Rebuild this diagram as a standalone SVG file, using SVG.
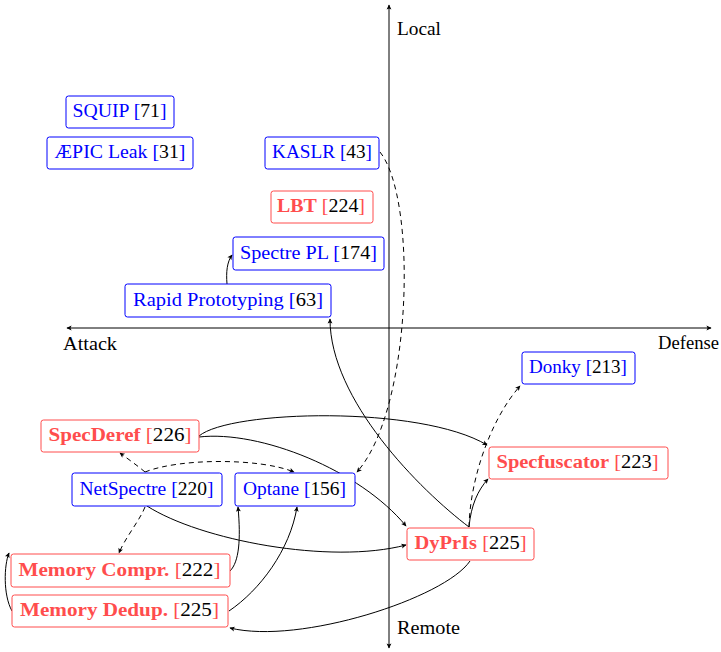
<svg xmlns="http://www.w3.org/2000/svg" width="721" height="652" viewBox="0 0 721 652">
  <style>
    text { font-family: "Liberation Serif", "Times New Roman", serif; font-size: 18.5px; }
    .lbl { fill: #000; text-anchor: start; }
    .nt { text-anchor: middle; }
    .b { fill: #0000ff; }
    .r { fill: #ff4d4d; }
    .bold { font-weight: bold; }
    .k { fill: #000; }
    .box-b { fill: #fff; stroke: #0000ff; stroke-width: 1; }
    .box-r { fill: #fff; stroke: #ff4d4d; stroke-width: 1; }
    .axis { fill: none; stroke: #000; stroke-width: 1; marker-start: url(#tipS); marker-end: url(#tip); }
    .c { fill: none; stroke: #000; stroke-width: 1; marker-end: url(#tip); }
    .d { stroke-dasharray: 5 4; }
  </style>
  <defs>
    <marker id="tip" viewBox="-6 -4 7 8" refX="0" refY="0" markerWidth="7" markerHeight="8" orient="auto" markerUnits="userSpaceOnUse">
      <path d="M0.6,0 L-4.6,-2.4 L-3.4,0 L-4.6,2.4 z" fill="#000" stroke="none"/>
    </marker>
    <marker id="tipS" viewBox="-1 -4 7 8" refX="0" refY="0" markerWidth="7" markerHeight="8" orient="auto" markerUnits="userSpaceOnUse">
      <path d="M-0.6,0 L4.6,-2.4 L3.4,0 L4.6,2.4 z" fill="#000" stroke="none"/>
    </marker>
  </defs>

  <!-- axes -->
  <g id="axes">
    <path class="axis" d="M389,648 L389,5"/>
    <path class="axis" d="M67,328 L711,328"/>
    <text class="lbl" x="397" y="35" textLength="44" lengthAdjust="spacingAndGlyphs">Local</text>
    <text class="lbl" x="397" y="634" textLength="63" lengthAdjust="spacingAndGlyphs">Remote</text>
    <text class="lbl" x="63" y="350" textLength="54" lengthAdjust="spacingAndGlyphs">Attack</text>
    <text class="lbl" x="658" y="349" textLength="61" lengthAdjust="spacingAndGlyphs">Defense</text>
  </g>

  <!-- connectors -->
  <g id="connectors">
    <path class="c" d="M227,284 C226,272 227,262 232,255"/>
    <path class="c d" d="M380,152 C418,200 412,410 357,472"/>
    <path class="c" d="M469,527 C420,490 330,400 330,319"/>
    <path class="c" d="M199,436 C230,410 420,405 487,445"/>
    <path class="c" d="M199,437 C260,430 360,470 406,526"/>
    <path class="c d" d="M145,472 C138,466 128,459 120,453"/>
    <path class="c d" d="M145,472 C180,458 260,458 294,472"/>
    <path class="c d" d="M145,507 C140,520 125,538 119,553"/>
    <path class="c" d="M147,506 C200,540 330,565 406,545"/>
    <path class="c" d="M230,571 C239,562 241,540 238,507"/>
    <path class="c" d="M229,611 C260,590 290,550 297,507"/>
    <path class="c" d="M470,561 C445,598 300,645 230,628"/>
    <path class="c" d="M12,611 C3,595 4,565 9,553"/>
    <path class="c" d="M469,527 C471,505 478,490 488,479"/>
    <path class="c d" d="M469,527 C470,480 490,420 520,386"/>
  </g>

  <!-- nodes -->
  <g id="squip">
    <rect class="box-b" x="66" y="96" width="108" height="32" rx="2.5"/>
    <text class="nt" x="119.5" y="117" textLength="94" lengthAdjust="spacingAndGlyphs"><tspan class="b">SQUIP [</tspan><tspan class="k">71</tspan><tspan class="b">]</tspan></text>
  </g>
  <g id="aepic">
    <rect class="box-b" x="47" y="137" width="146" height="32" rx="2.5"/>
    <text class="nt" x="120" y="158" textLength="131" lengthAdjust="spacingAndGlyphs"><tspan class="b">ÆPIC Leak [</tspan><tspan class="k">31</tspan><tspan class="b">]</tspan></text>
  </g>
  <g id="kaslr">
    <rect class="box-b" x="265" y="137" width="114" height="32" rx="2.5"/>
    <text class="nt" x="322" y="158" textLength="100" lengthAdjust="spacingAndGlyphs"><tspan class="b">KASLR [</tspan><tspan class="k">43</tspan><tspan class="b">]</tspan></text>
  </g>
  <g id="lbt">
    <rect class="box-r" x="271" y="191" width="102" height="32" rx="2.5"/>
    <text class="nt" x="321" y="212" textLength="88" lengthAdjust="spacingAndGlyphs"><tspan class="r bold">LBT</tspan><tspan class="r"> [</tspan><tspan class="k">224</tspan><tspan class="r">]</tspan></text>
  </g>
  <g id="spectre-pl">
    <rect class="box-b" x="233" y="237" width="151" height="33" rx="2.5"/>
    <text class="nt" x="308.5" y="258.5" textLength="137" lengthAdjust="spacingAndGlyphs"><tspan class="b">Spectre PL [</tspan><tspan class="k">174</tspan><tspan class="b">]</tspan></text>
  </g>
  <g id="rapid-prototyping">
    <rect class="box-b" x="125" y="284" width="206" height="33" rx="2.5"/>
    <text class="nt" x="228" y="305.5" textLength="190" lengthAdjust="spacingAndGlyphs"><tspan class="b">Rapid Prototyping [</tspan><tspan class="k">63</tspan><tspan class="b">]</tspan></text>
  </g>
  <g id="specderef">
    <rect class="box-r" x="41" y="420" width="158" height="32" rx="2.5"/>
    <text class="nt" x="120" y="441" textLength="143" lengthAdjust="spacingAndGlyphs"><tspan class="r bold">SpecDeref</tspan><tspan class="r"> [</tspan><tspan class="k">226</tspan><tspan class="r">]</tspan></text>
  </g>
  <g id="netspectre">
    <rect class="box-b" x="72" y="473" width="150" height="33" rx="2.5"/>
    <text class="nt" x="146.5" y="494.5" textLength="134" lengthAdjust="spacingAndGlyphs"><tspan class="b">NetSpectre [</tspan><tspan class="k">220</tspan><tspan class="b">]</tspan></text>
  </g>
  <g id="optane">
    <rect class="box-b" x="235" y="473" width="120" height="33" rx="2.5"/>
    <text class="nt" x="294.5" y="494.5" textLength="103" lengthAdjust="spacingAndGlyphs"><tspan class="b">Optane [</tspan><tspan class="k">156</tspan><tspan class="b">]</tspan></text>
  </g>
  <g id="memory-compr">
    <rect class="box-r" x="11" y="554" width="219" height="33" rx="2.5"/>
    <text class="nt" x="119.5" y="575.5" textLength="202" lengthAdjust="spacingAndGlyphs"><tspan class="r bold">Memory Compr.</tspan><tspan class="r"> [</tspan><tspan class="k">222</tspan><tspan class="r">]</tspan></text>
  </g>
  <g id="memory-dedup">
    <rect class="box-r" x="12" y="595" width="216" height="32" rx="2.5"/>
    <text class="nt" x="119.5" y="616" textLength="199" lengthAdjust="spacingAndGlyphs"><tspan class="r bold">Memory Dedup.</tspan><tspan class="r"> [</tspan><tspan class="k">225</tspan><tspan class="r">]</tspan></text>
  </g>
  <g id="donky">
    <rect class="box-b" x="522" y="352" width="113" height="32" rx="2.5"/>
    <text class="nt" x="578" y="373" textLength="98" lengthAdjust="spacingAndGlyphs"><tspan class="b">Donky [</tspan><tspan class="k">213</tspan><tspan class="b">]</tspan></text>
  </g>
  <g id="specfuscator">
    <rect class="box-r" x="489" y="447" width="179" height="32" rx="2.5"/>
    <text class="nt" x="577.5" y="468" textLength="162" lengthAdjust="spacingAndGlyphs"><tspan class="r bold">Specfuscator</tspan><tspan class="r"> [</tspan><tspan class="k">223</tspan><tspan class="r">]</tspan></text>
  </g>
  <g id="dyprls">
    <rect class="box-r" x="407" y="528" width="127" height="32" rx="2.5"/>
    <text class="nt" x="470.5" y="549" textLength="112" lengthAdjust="spacingAndGlyphs"><tspan class="r bold">DyPrIs</tspan><tspan class="r"> [</tspan><tspan class="k">225</tspan><tspan class="r">]</tspan></text>
  </g>
</svg>
